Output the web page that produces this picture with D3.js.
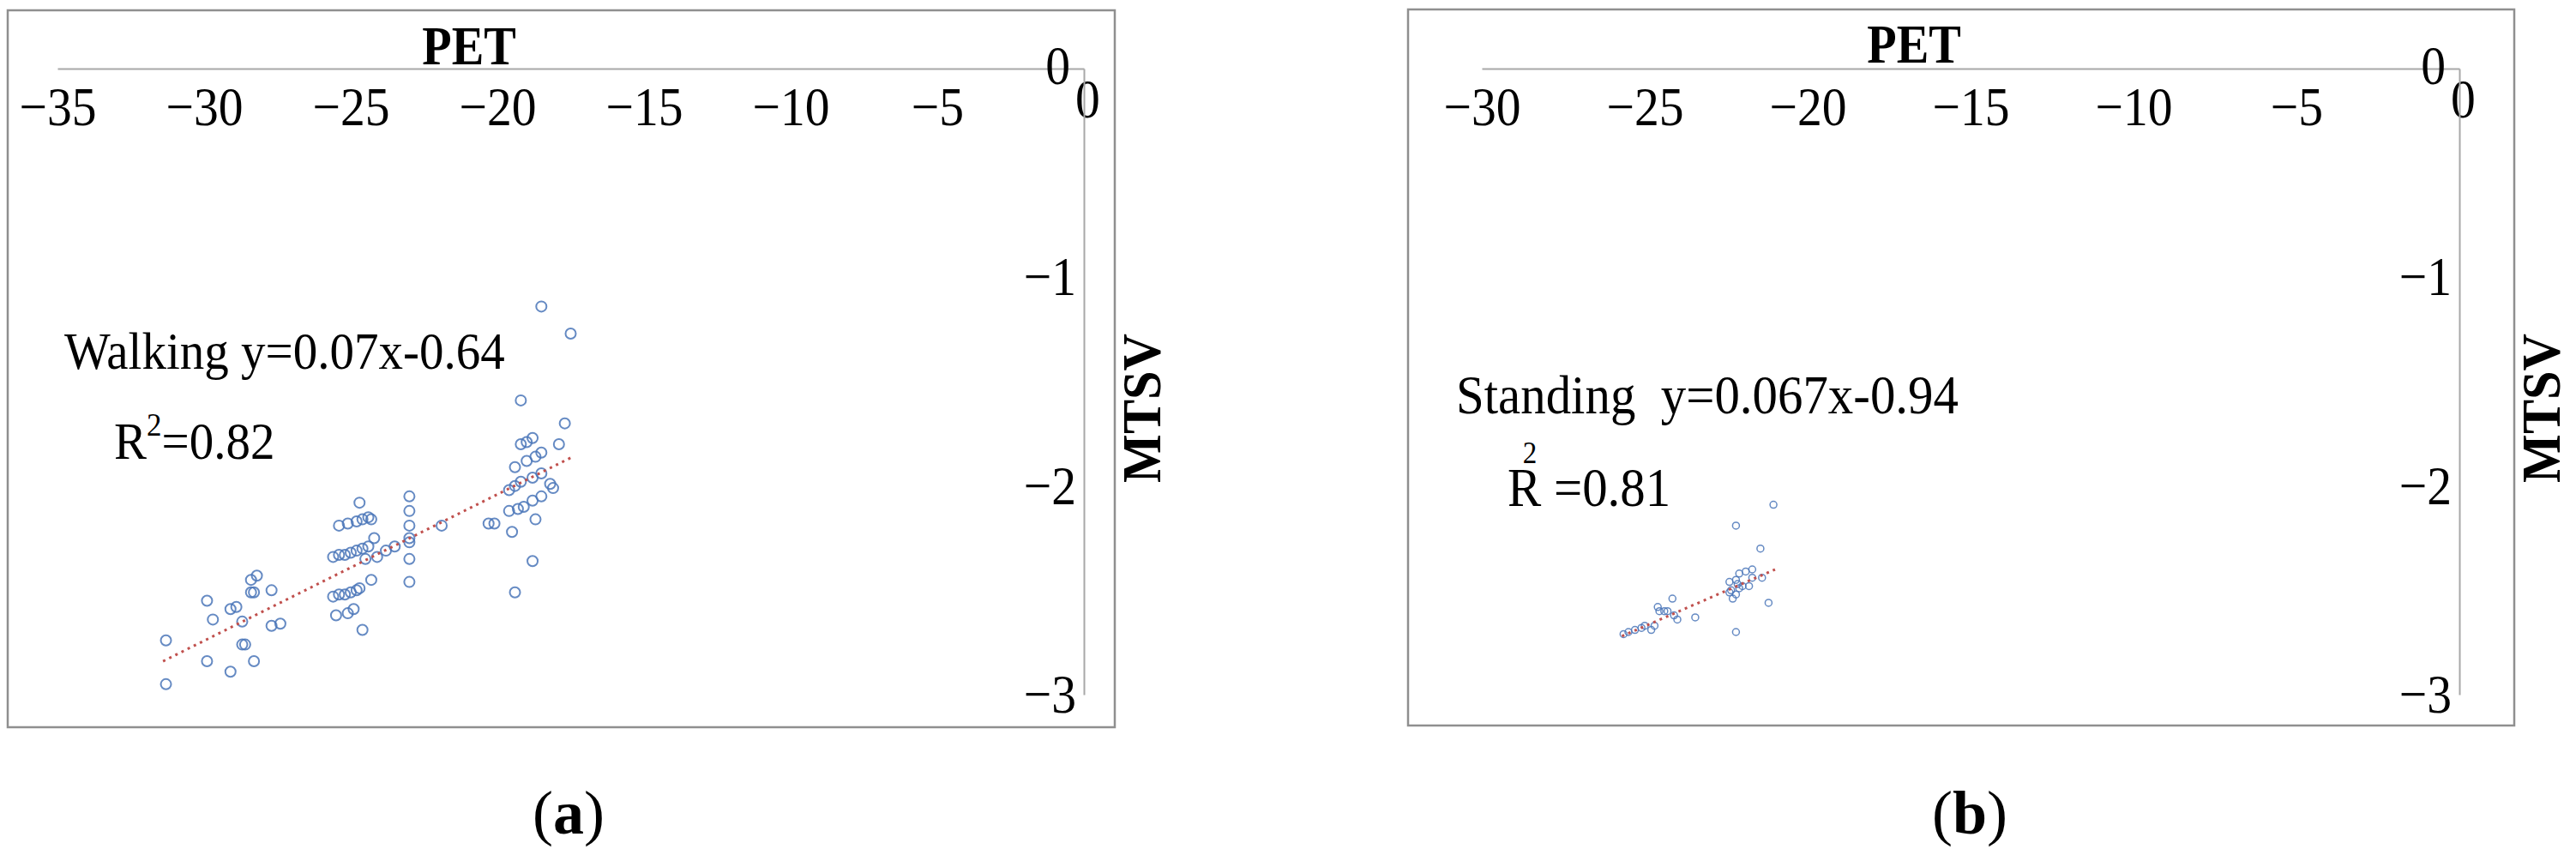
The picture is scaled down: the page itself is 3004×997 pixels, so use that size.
<!DOCTYPE html>
<html>
<head>
<meta charset="utf-8">
<script src="https://cdn.jsdelivr.net/npm/d3@7"></script>
<style>
  body { margin: 0; background: #fff; }
  text { font-family: "Liberation Serif", "Times New Roman", serif; fill: #000; }
</style>
</head>
<body>
<div id="chart"></div>
<script>
// [PET, MTSV] readings taken off the figure
const walkingPoints = [
  [-31.3, -2.74], [-31.3, -2.95], [-29.9, -2.55], [-29.7, -2.64], [-29.9, -2.84],
  [-29.1, -2.89], [-29.1, -2.59], [-28.9, -2.58], [-28.7, -2.65], [-28.7, -2.76],
  [-28.6, -2.76], [-28.3, -2.84], [-28.4, -2.51], [-28.3, -2.51], [-28.4, -2.45],
  [-28.2, -2.43], [-27.7, -2.50], [-27.7, -2.67], [-27.4, -2.66],
  [-24.7, -2.08], [-25.4, -2.19], [-25.1, -2.18], [-24.8, -2.17], [-24.6, -2.16],
  [-24.4, -2.15], [-24.3, -2.16], [-24.2, -2.25],
  [-25.6, -2.34], [-25.4, -2.33], [-25.2, -2.33], [-25.0, -2.32], [-24.8, -2.31],
  [-24.6, -2.30], [-24.4, -2.29], [-24.5, -2.35], [-24.1, -2.34], [-23.8, -2.31],
  [-23.5, -2.29], [-24.3, -2.45],
  [-25.6, -2.53], [-25.4, -2.52], [-25.2, -2.52], [-25.0, -2.51], [-24.8, -2.50],
  [-24.7, -2.49], [-25.5, -2.62], [-25.1, -2.61], [-24.9, -2.59], [-24.6, -2.69],
  [-23.0, -2.05], [-23.0, -2.12], [-23.0, -2.19], [-23.0, -2.25], [-23.0, -2.27],
  [-23.0, -2.35], [-23.0, -2.46], [-21.9, -2.19],
  [-20.3, -2.18], [-20.1, -2.18],
  [-18.5, -1.14], [-17.5, -1.27], [-19.2, -1.59], [-17.7, -1.70],
  [-19.2, -1.80], [-18.8, -1.77], [-19.0, -1.79], [-17.9, -1.80],
  [-19.4, -1.91], [-19.0, -1.88], [-18.7, -1.86], [-18.5, -1.84],
  [-19.6, -2.02], [-19.4, -2.00], [-19.2, -1.98], [-18.8, -1.96], [-18.5, -1.94],
  [-18.2, -1.99], [-18.1, -2.01],
  [-19.6, -2.12], [-19.3, -2.11], [-19.1, -2.10], [-18.8, -2.07], [-18.5, -2.05],
  [-18.7, -2.16], [-19.5, -2.22], [-18.8, -2.36], [-19.4, -2.51]
];

const standingPoints = [
  [-21.05, -2.09], [-22.2, -2.19], [-21.45, -2.30], [-21.2, -2.56], [-22.2, -2.70],
  [-23.45, -2.63],
  [-22.4, -2.46], [-22.35, -2.50], [-22.2, -2.52], [-22.1, -2.42], [-21.9, -2.41],
  [-21.7, -2.40], [-21.8, -2.48], [-21.7, -2.44], [-21.4, -2.44], [-22.0, -2.48],
  [-22.4, -2.51], [-22.15, -2.47], [-22.2, -2.45], [-22.3, -2.54], [-22.1, -2.49],
  [-25.65, -2.71], [-25.5, -2.70], [-25.3, -2.69], [-25.1, -2.68], [-25.0, -2.67],
  [-24.8, -2.69], [-24.7, -2.67],
  [-24.6, -2.58], [-24.55, -2.60], [-24.4, -2.60], [-24.15, -2.54], [-24.1, -2.62],
  [-24.0, -2.64], [-24.3, -2.60]
];

// dotted linear trend lines (end points)
const walkingTrend = [[-31.4, -2.84], [-17.5, -1.865]];
const standingTrend = [[-25.7, -2.72], [-21.0, -2.40]];

const walkingXTicks = [-35, -30, -25, -20, -15, -10, -5, 0];
const standingXTicks = [-30, -25, -20, -15, -10, -5, 0];
const mtsvTicks = [0, -1, -2, -3];

const walkingEquation = "Walking y=0.07x-0.64";
const walkingR2 = "=0.82";
const standingEquation = "Standing  y=0.067x-0.94";
const standingR2 = "=0.81";

const svg = d3
  .select("#chart")
  .append("svg")
  .attr("width", 3004)
  .attr("height", 997);

function addText(parent, x, y, str, opts = {}) {
  const rot = opts.rotate ? ` rotate(${opts.rotate})` : "";
  return parent
    .append("text")
    .attr("transform", `translate(${x},${y})${rot} scale(${opts.sx || 1},1)`)
    .attr("text-anchor", opts.anchor || "start")
    .attr("font-size", opts.size || 62)
    .attr("font-weight", opts.bold ? "bold" : "normal")
    .style("white-space", "pre")
    .text(str);
}

class ScatterPanel {
  constructor(_config, _points, _trend) {
    this.config = _config;
    this.points = _points;
    this.trend = _trend;
    this.initVis();
  }

  initVis() {
    let vis = this;
    const c = vis.config;

    vis.g = svg.append("g");

    // outer frame of the panel
    vis.g
      .append("rect")
      .attr("x", c.frame[0])
      .attr("y", c.frame[1])
      .attr("width", c.frame[2] - c.frame[0])
      .attr("height", c.frame[3] - c.frame[1])
      .attr("fill", "none")
      .attr("stroke", "#8f8f8f")
      .attr("stroke-width", 2.5);

    vis.x = d3.scaleLinear().domain(c.xDomain).range(c.xRange);
    vis.y = d3.scaleLinear().domain([-3, 0]).range([810, 80]);

    vis.renderVis();
  }

  renderVis() {
    let vis = this;
    const c = vis.config;

    // x axis sits on MTSV = 0, labels below the line
    const xAxis = d3
      .axisBottom(vis.x)
      .tickValues(c.xTicks)
      .tickFormat(d3.format("d"))
      .tickSize(0)
      .tickSizeOuter(0)
      .tickPadding(21);
    const xg = vis.g
      .append("g")
      .attr("transform", `translate(0,${vis.y(0)})`)
      .call(xAxis)
      .attr("font-size", 64);
    xg.select(".domain").attr("stroke", "#a8a8a8").attr("stroke-width", 2);
    xg.selectAll(".tick text")
      .attr("fill", "#000")
      .attr("transform", (d) =>
        d === 0 ? "translate(4,-9) scale(0.9,1)" : "scale(0.9,1)"
      );

    // y axis sits on PET = 0
    const yAxis = d3
      .axisLeft(vis.y)
      .tickValues(mtsvTicks)
      .tickFormat(d3.format("d"))
      .tickSize(0)
      .tickSizeOuter(0)
      .tickPadding(10);
    const yg = vis.g
      .append("g")
      .attr("transform", `translate(${vis.x(0)},0)`)
      .call(yAxis)
      .attr("font-size", 64);
    yg.select(".domain").attr("stroke", "#a8a8a8").attr("stroke-width", 2);
    yg.selectAll(".tick text")
      .attr("fill", "#000")
      .attr("transform", (d) =>
        d === 0 ? "translate(-7,-3) scale(0.9,1)" : "scale(0.9,1)"
      );

    // points
    vis.g
      .selectAll(".pt")
      .data(vis.points)
      .enter()
      .append("circle")
      .attr("class", "pt")
      .attr("cx", (d) => vis.x(d[0]))
      .attr("cy", (d) => vis.y(d[1]))
      .attr("r", c.radius)
      .attr("fill", "none")
      .attr("stroke", "#4a76b8")
      .attr("stroke-opacity", 0.85)
      .attr("stroke-width", c.strokeWidth);

    // trend line
    vis.g
      .append("path")
      .datum(vis.trend)
      .attr(
        "d",
        d3
          .line()
          .x((d) => vis.x(d[0]))
          .y((d) => vis.y(d[1]))
      )
      .attr("fill", "none")
      .attr("stroke", "#c0504d")
      .attr("stroke-width", 3)
      .attr("stroke-dasharray", "3,5");

    // axis titles
    addText(vis.g, c.petX, c.petY, "PET", { size: 64, bold: true, anchor: "middle", sx: 0.88 });
    addText(vis.g, c.mtsvX, 476, "MTSV", { size: 64, bold: true, anchor: "middle", rotate: -90, sx: 0.94 });

    // regression annotation
    addText(vis.g, c.eqPos[0], c.eqPos[1], c.equation, { size: c.eqSize, sx: 0.92 });
    if (c.r2Style === "sup") {
      const t = addText(vis.g, c.r2Pos[0], c.r2Pos[1], "", { size: 62, sx: 0.92 });
      t.append("tspan").text("R");
      t.append("tspan").attr("font-size", 38).attr("dy", -27).text("2");
      t.append("tspan").attr("dy", 27).text(c.r2);
    } else {
      addText(vis.g, c.r2Pos[0], c.r2Pos[1], "R " + c.r2, { size: 64, sx: 0.92 });
      addText(vis.g, c.r2Pos[0] + 26, c.r2Pos[1] - 50, "2", { size: 36, anchor: "middle", sx: 0.92 });
    }

    // panel caption
    const cap = addText(vis.g, c.capX, 972, "", { size: 72, anchor: "middle" });
    cap.append("tspan").text("(");
    cap.append("tspan").attr("font-weight", "bold").text(c.letter);
    cap.append("tspan").text(")");
  }
}

new ScatterPanel(
  {
    frame: [9, 12, 1300, 848],
    xDomain: [-35, 0],
    xRange: [67, 1264],
    xTicks: walkingXTicks,
    radius: 6,
    strokeWidth: 2,
    petX: 547,
    petY: 75,
    mtsvX: 1353,
    equation: walkingEquation,
    eqPos: [75, 430],
    eqSize: 62,
    r2: walkingR2,
    r2Style: "sup",
    r2Pos: [133, 535],
    capX: 663,
    letter: "a",
  },
  walkingPoints,
  walkingTrend
);

new ScatterPanel(
  {
    frame: [1642, 11, 2932, 846],
    xDomain: [-30, 0],
    xRange: [1728, 2868],
    xTicks: standingXTicks,
    radius: 4,
    strokeWidth: 1.5,
    petX: 2232,
    petY: 73,
    mtsvX: 2985,
    equation: standingEquation,
    eqPos: [1698, 482],
    eqSize: 64,
    r2: standingR2,
    r2Style: "over",
    r2Pos: [1758, 590],
    capX: 2297,
    letter: "b",
  },
  standingPoints,
  standingTrend
);
</script>
</body>
</html>
